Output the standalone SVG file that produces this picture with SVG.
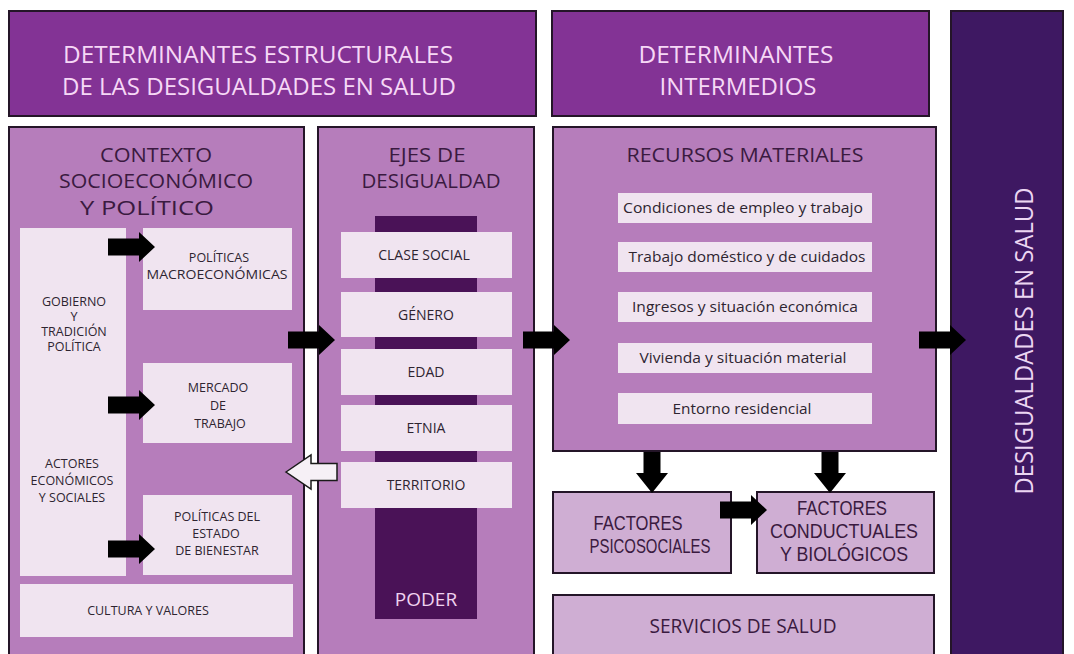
<svg xmlns="http://www.w3.org/2000/svg" width="1074" height="654" viewBox="0 0 1074 654">
<defs>
<style>
text{font-family:"Open Sans","Noto Sans","Liberation Sans",sans-serif;text-anchor:middle}
.hdr{fill:#833395;stroke:#241528;stroke-width:2}
.dark{fill:#3e1862;stroke:#241528;stroke-width:2}
.mid{fill:#b67dbb;stroke:#241528;stroke-width:2}
.soft{fill:#cfaed3;stroke:#241528;stroke-width:2}
.light{fill:#f0e4f0}
.bar{fill:#4a1257}
.ht{fill:#f6d8f6;font-size:24px}
.tt{fill:#3a1a40;font-size:20px}
.ft{fill:#3a1a40;font-size:20px;font-family:"Liberation Sans",Arial,sans-serif}
.st{fill:#2e2430;font-size:12.5px}
.it{fill:#2e2430;font-size:14px}
.blk{fill:#000}
</style>
<path id="arrR" d="M0,-8.5 H31 V-15 L47,0 L31,15 V8.5 H0 Z"/>
<path id="arrD" d="M-8.5,0 V21 H-16 L0,41 L16,21 H8.5 V0 Z"/>
</defs>
<rect width="1074" height="654" fill="#ffffff"/>

<g id="hdr-estructurales">
<rect class="hdr" x="9" y="11" width="527" height="105"/>
<text class="ht" x="258" y="63" textLength="390" lengthAdjust="spacingAndGlyphs">DETERMINANTES ESTRUCTURALES</text>
<text class="ht" x="259" y="95" textLength="394" lengthAdjust="spacingAndGlyphs">DE LAS DESIGUALDADES EN SALUD</text>
</g>

<g id="hdr-intermedios">
<rect class="hdr" x="552" y="11" width="377" height="105"/>
<text class="ht" x="736" y="63" textLength="195" lengthAdjust="spacingAndGlyphs">DETERMINANTES</text>
<text class="ht" x="738" y="95" textLength="157" lengthAdjust="spacingAndGlyphs">INTERMEDIOS</text>
</g>

<g id="desigualdades">
<rect class="dark" x="951" y="11" width="112" height="650"/>
<text transform="translate(1033,341) rotate(-90)" style="fill:#ecd6f2;font-size:25px" textLength="307" lengthAdjust="spacingAndGlyphs">DESIGUALDADES EN SALUD</text>
</g>

<g id="contexto">
<rect class="mid" x="9" y="127" width="295" height="534"/>
<text class="tt" x="156" y="162" textLength="112" lengthAdjust="spacingAndGlyphs">CONTEXTO</text>
<text class="tt" x="156" y="188" textLength="194" lengthAdjust="spacingAndGlyphs">SOCIOECONÓMICO</text>
<text class="tt" x="147" y="215" textLength="134" lengthAdjust="spacingAndGlyphs">Y POLÍTICO</text>
</g>

<g id="gobierno-actores">
<rect class="light" x="20" y="228" width="106" height="348"/>
<text class="st" x="74" y="306">GOBIERNO</text>
<text class="st" x="74" y="321">Y</text>
<text class="st" x="74" y="336">TRADICIÓN</text>
<text class="st" x="74" y="351">POLÍTICA</text>
<text class="st" x="72" y="468">ACTORES</text>
<text class="st" x="72" y="485">ECONÓMICOS</text>
<text class="st" x="72" y="502">Y SOCIALES</text>
</g>

<g id="politicas-macro">
<rect class="light" x="143" y="228" width="149" height="82"/>
<text class="st" x="219" y="262">POLÍTICAS</text>
<text class="st" x="217" y="279" textLength="141" lengthAdjust="spacingAndGlyphs">MACROECONÓMICAS</text>
</g>

<g id="mercado">
<rect class="light" x="143" y="363" width="149" height="80"/>
<text class="st" x="218" y="392">MERCADO</text>
<text class="st" x="218" y="410">DE</text>
<text class="st" x="220" y="428">TRABAJO</text>
</g>

<g id="politicas-bienestar">
<rect class="light" x="143" y="495" width="149" height="80"/>
<text class="st" x="217" y="521">POLÍTICAS DEL</text>
<text class="st" x="216" y="538">ESTADO</text>
<text class="st" x="217" y="555">DE BIENESTAR</text>
</g>

<g id="cultura">
<rect class="light" x="20" y="584" width="273" height="53"/>
<text class="st" x="148" y="615">CULTURA Y VALORES</text>
</g>

<g id="ejes">
<rect class="mid" x="318" y="127" width="216" height="534"/>
<text class="tt" x="427" y="162" textLength="77" lengthAdjust="spacingAndGlyphs">EJES DE</text>
<text class="tt" x="431" y="188" textLength="139" lengthAdjust="spacingAndGlyphs">DESIGUALDAD</text>
<rect class="bar" x="375" y="216" width="102" height="403"/>
<text x="426" y="606" style="fill:#f0d2f0;font-size:19px">PODER</text>
</g>

<g id="clase-social">
<rect class="light" x="341" y="232" width="171" height="46"/>
<text class="it" x="424" y="260">CLASE SOCIAL</text>
</g>
<g id="genero">
<rect class="light" x="341" y="292" width="171" height="45"/>
<text class="it" x="426" y="320">GÉNERO</text>
</g>
<g id="edad">
<rect class="light" x="341" y="349" width="171" height="46"/>
<text class="it" x="426" y="377">EDAD</text>
</g>
<g id="etnia">
<rect class="light" x="341" y="405" width="171" height="46"/>
<text class="it" x="426" y="433">ETNIA</text>
</g>
<g id="territorio">
<rect class="light" x="341" y="462" width="171" height="46"/>
<text class="it" x="426" y="490">TERRITORIO</text>
</g>

<g id="recursos">
<rect class="mid" x="553" y="127" width="383" height="324"/>
<text class="tt" x="745" y="162" textLength="237" lengthAdjust="spacingAndGlyphs">RECURSOS MATERIALES</text>
</g>
<g id="condiciones">
<rect class="light" x="618" y="193" width="254" height="30"/>
<text class="it" x="743" y="213" textLength="240" lengthAdjust="spacingAndGlyphs">Condiciones de empleo y trabajo</text>
</g>
<g id="domestico">
<rect class="light" x="618" y="242" width="254" height="30"/>
<text class="it" x="747" y="262" textLength="237" lengthAdjust="spacingAndGlyphs">Trabajo doméstico y de cuidados</text>
</g>
<g id="ingresos">
<rect class="light" x="618" y="292" width="254" height="30"/>
<text class="it" x="745" y="312" textLength="226" lengthAdjust="spacingAndGlyphs">Ingresos y situación económica</text>
</g>
<g id="vivienda">
<rect class="light" x="618" y="343" width="254" height="30"/>
<text class="it" x="743" y="363" textLength="207" lengthAdjust="spacingAndGlyphs">Vivienda y situación material</text>
</g>
<g id="entorno">
<rect class="light" x="618" y="393" width="254" height="31"/>
<text class="it" x="742" y="414" textLength="139" lengthAdjust="spacingAndGlyphs">Entorno residencial</text>
</g>

<g id="psicosociales">
<rect class="soft" x="553" y="492" width="178" height="81"/>
<text class="ft" x="638" y="530" textLength="89" lengthAdjust="spacingAndGlyphs">FACTORES</text>
<text class="ft" x="650" y="553" textLength="121" lengthAdjust="spacingAndGlyphs">PSICOSOCIALES</text>
</g>

<g id="conductuales">
<rect class="soft" x="757" y="492" width="177" height="81"/>
<text class="ft" x="842" y="515" textLength="90" lengthAdjust="spacingAndGlyphs">FACTORES</text>
<text class="ft" x="844" y="538" textLength="148" lengthAdjust="spacingAndGlyphs">CONDUCTUALES</text>
<text class="ft" x="844" y="561" textLength="128" lengthAdjust="spacingAndGlyphs">Y BIOLÓGICOS</text>
</g>

<g id="servicios">
<rect class="soft" x="553" y="595" width="381" height="70"/>
<text class="tt" x="743" y="633" textLength="187" lengthAdjust="spacingAndGlyphs">SERVICIOS DE SALUD</text>
</g>

<g id="connectors">
<use href="#arrR" class="blk" x="108" y="247"/>
<use href="#arrR" class="blk" x="108" y="405"/>
<use href="#arrR" class="blk" x="108" y="549"/>
<use href="#arrR" class="blk" x="288" y="340"/>
<use href="#arrR" class="blk" x="523" y="340"/>
<use href="#arrR" class="blk" x="919" y="340"/>
<use href="#arrR" class="blk" x="720" y="510"/>
<use href="#arrD" class="blk" x="652" y="452"/>
<use href="#arrD" class="blk" x="830" y="452"/>
<path d="M286,472 L311,455 V463.5 H337 V480.5 H311 V489 Z" fill="#f6f0f6" stroke="#1a1a1a" stroke-width="1.5"/>
</g>
</svg>
